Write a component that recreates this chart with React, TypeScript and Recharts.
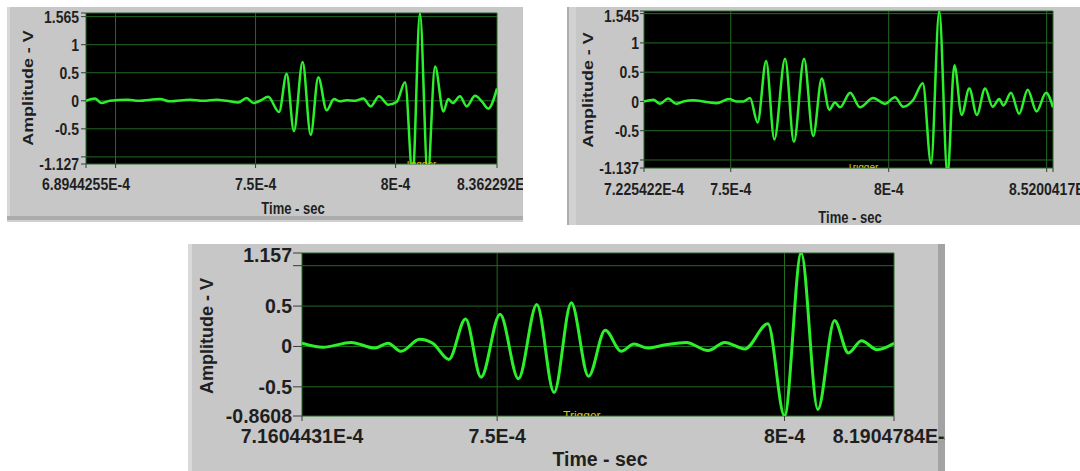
import { LineChart, Line, XAxis, YAxis, CartesianGrid } from "recharts";

const FONT = '"Liberation Sans", Arial, Helvetica, sans-serif';
const INK = "#1f1f1f";
const PANEL_GRAY = "#c7c7c7";
const PLOT_BG = "#000000";
const GRID_GREEN = "#236b23";
const TRACE_GREEN = "#2cf02c";
const TRIGGER_YELLOW = "#d9c400";

// times in microseconds, the axis labels print them as seconds

// top-left graph
const time1 = [
  689.44, 692.7, 695.0, 698.0, 704.5, 708.1, 715.9, 719.4, 726.6, 731.3, 736.1, 739.7,
  743.8, 746.8, 749.2, 751.6, 754.5, 758.4, 761.1, 763.7, 766.8, 769.7, 772.4, 775.4,
  778.0, 780.2, 782.5, 785.5, 788.5, 791.1, 794.1, 797.4, 800.4, 803.4, 806.1, 808.7,
  811.5, 814.1, 817.1, 818.8, 820.4, 823.0, 825.4, 828.4, 830.8, 833.1, 836.23,
];
const amp1 = [
  0.0, 0.04, -0.04, 0.0, 0.02, 0.0, 0.03, -0.01, 0.02, 0.0, 0.02, 0.0,
  -0.03, 0.05, -0.04, 0.0, 0.07, -0.2, 0.48, -0.54, 0.69, -0.61, 0.42, -0.17,
  0.03, -0.01, 0.01, 0.0, 0.04, -0.1, 0.08, -0.07, -0.02, 0.33, -1.35, 1.56,
  -1.35, 0.61, -0.19, 0.03, -0.04, 0.08, -0.1, 0.09, -0.01, -0.14, 0.22,
];
const xTicks1 = [689.44255, 700, 750, 800, 836.2292];
const xTickText1 = ["6.8944255E-4", "", "7.5E-4", "8E-4", "8.362292E-4"];
const yTicks1 = [-1.127, -1, -0.5, 0, 0.5, 1, 1.5, 1.565];
const yTickText1 = ["-1.127", "", "-0.5", "0", "0.5", "1", "", "1.565"];

// top-right graph
const time2 = [
  722.54, 725.5, 727.6, 730.2, 732.7, 735.0, 738.1, 742.4, 745.5, 749.5, 751.9, 754.0,
  756.1, 758.5, 761.2, 763.8, 767.2, 770.0, 773.2, 776.1, 778.8, 781.2, 783.0, 784.6,
  787.8, 790.9, 795.1, 798.8, 802.0, 804.6, 807.8, 810.8, 813.4, 816.0, 818.6, 820.8,
  823.1, 825.5, 827.9, 830.5, 832.9, 835.0, 836.3, 838.7, 841.3, 844.0, 846.8, 849.8, 852.0,
];
const amp2 = [
  0.0, 0.03, -0.04, 0.05, -0.04, 0.0, 0.02, -0.01, -0.03, 0.04, 0.0, 0.0,
  0.06, -0.36, 0.69, -0.65, 0.73, -0.69, 0.73, -0.59, 0.39, -0.14, -0.02, -0.1,
  0.15, -0.1, 0.06, -0.04, 0.07, -0.09, 0.03, 0.31, -1.06, 1.545, -1.25, 0.62,
  -0.23, 0.22, -0.23, 0.22, -0.09, 0.04, -0.07, 0.15, -0.21, 0.2, -0.17, 0.15, -0.1,
];
const xTicks2 = [722.5422, 750, 800, 850, 852.00417];
const xTickText2 = ["7.225422E-4", "7.5E-4", "8E-4", "", "8.5200417E-4"];
const yTicks2 = [-1.137, -1, -0.5, 0, 0.5, 1, 1.5, 1.545];
const yTickText2 = ["-1.137", "", "-0.5", "0", "0.5", "1", "", "1.545"];

// bottom graph
const time3 = [
  716.04, 719.7, 724.6, 728.7, 731.0, 733.3, 736.5, 738.8, 741.6, 744.5, 747.2, 750.5,
  753.7, 756.9, 759.9, 762.9, 765.9, 768.8, 771.6, 773.8, 776.2, 779.3, 782.9, 786.7,
  789.6, 793.1, 797.1, 800.0, 802.9, 805.8, 808.7, 811.1, 813.4, 816.1, 819.05,
];
const amp3 = [
  0.04, -0.01, 0.05, -0.02, 0.04, -0.06, 0.09, 0.04, -0.16, 0.34, -0.38, 0.4,
  -0.4, 0.52, -0.57, 0.54, -0.37, 0.2, -0.06, 0.03, -0.02, 0.02, 0.05, -0.05,
  0.05, -0.03, 0.28, -0.86, 1.157, -0.78, 0.32, -0.08, 0.07, -0.04, 0.04,
];
const xTicks3 = [716.04431, 750, 800, 819.04784];
const xTickText3 = ["7.1604431E-4", "7.5E-4", "8E-4", "8.1904784E-4"];
const yTicks3 = [-0.8608, -0.5, 0, 0.5, 1, 1.157];
const yTickText3 = ["-0.8608", "-0.5", "0", "0.5", "", "1.157"];

type Strip = { left: number; top: number; width: number; height: number; color: string };

interface GraphProps {
  left: number;
  top: number;
  width: number;
  height: number;
  margin: { top: number; right: number; bottom: number; left: number };
  yAxisWidth: number;
  time: number[];
  amp: number[];
  xTicks: number[];
  xTickText: string[];
  yTicks: number[];
  yTickText: string[];
  fontSize: number;
  stretch: number;
  topShift: number;
  xTick: [number, number];
  yTick: [number, number];
  strokeWidth: number;
  ampTitle: { cx: number; cy: number; size: number; stretch: number };
  timeTitle: { cx: number; cy: number; size: number; stretch: number };
  trigger: { left: number; top: number; height: number; size: number };
  strips: Strip[];
}

function Graph(p: GraphProps) {
  const data = p.time.map((t, i) => ({ t, v: p.amp[i] }));
  const xDomain = [p.xTicks[0], p.xTicks[p.xTicks.length - 1]];
  const yDomain = [p.yTicks[0], p.yTicks[p.yTicks.length - 1]];

  const renderXTick = (props: any) => {
    const i = p.xTicks.indexOf(props.payload.value);
    const label = p.xTickText[i];
    if (!label) return <g />;
    return (
      <g transform={`translate(${props.x},${props.y}) scale(1,${p.stretch})`}>
        <text x={0} y={0} dy="0.72em" textAnchor="middle" fontFamily={FONT} fontWeight={700} fontSize={p.fontSize} fill={INK}>
          {label}
        </text>
      </g>
    );
  };

  const renderYTick = (props: any) => {
    const i = p.yTicks.indexOf(props.payload.value);
    const label = p.yTickText[i];
    if (!label) return <g />;
    const shift = i === p.yTicks.length - 1 ? p.topShift : 0;
    return (
      <g transform={`translate(${props.x},${props.y + shift}) scale(1,${p.stretch})`}>
        <text x={0} y={0} dy="0.36em" textAnchor="end" fontFamily={FONT} fontWeight={700} fontSize={p.fontSize} fill={INK}>
          {label}
        </text>
      </g>
    );
  };

  const titleStyle = (size: number) => ({
    position: "absolute" as const,
    width: 240,
    height: size,
    lineHeight: `${size}px`,
    textAlign: "center" as const,
    whiteSpace: "nowrap" as const,
    fontFamily: FONT,
    fontWeight: 700,
    fontSize: size,
    color: INK,
  });

  return (
    <div
      style={{
        position: "absolute",
        left: p.left,
        top: p.top,
        width: p.width,
        height: p.height,
        overflow: "hidden",
        background: PANEL_GRAY,
      }}
    >
      {p.strips.map((s, i) => (
        <div key={i} style={{ position: "absolute", left: s.left, top: s.top, width: s.width, height: s.height, background: s.color }} />
      ))}
      <div style={{ position: "absolute", left: 0, top: 0 }}>
        <LineChart width={p.width} height={p.height} data={data} margin={p.margin}>
          <CartesianGrid fill={PLOT_BG} fillOpacity={1} stroke={GRID_GREEN} strokeWidth={1} />
          <XAxis
            dataKey="t"
            type="number"
            domain={xDomain}
            ticks={p.xTicks}
            interval={0}
            allowDataOverflow
            height={30}
            axisLine={false}
            tickLine={{ stroke: "#3a3a3a" }}
            tickSize={p.xTick[0]}
            tickMargin={p.xTick[1]}
            tick={renderXTick}
          />
          <YAxis
            type="number"
            domain={yDomain}
            ticks={p.yTicks}
            interval={0}
            allowDataOverflow
            width={p.yAxisWidth}
            axisLine={false}
            tickLine={{ stroke: "#3a3a3a" }}
            tickSize={p.yTick[0]}
            tickMargin={p.yTick[1]}
            tick={renderYTick}
          />
          <Line
            type="monotone"
            dataKey="v"
            stroke={TRACE_GREEN}
            strokeWidth={p.strokeWidth}
            dot={false}
            isAnimationActive={false}
          />
        </LineChart>
      </div>
      <div
        style={{
          ...titleStyle(p.ampTitle.size),
          left: p.ampTitle.cx - 120,
          top: p.ampTitle.cy - p.ampTitle.size / 2,
          transform: `rotate(-90deg) scale(${p.ampTitle.stretch},1)`,
        }}
      >
        Amplitude - V
      </div>
      <div
        style={{
          ...titleStyle(p.timeTitle.size),
          left: p.timeTitle.cx - 120,
          top: p.timeTitle.cy - p.timeTitle.size / 2,
          transform: `scale(1,${p.timeTitle.stretch})`,
        }}
      >
        Time - sec
      </div>
      <div
        style={{
          position: "absolute",
          left: p.trigger.left,
          top: p.trigger.top,
          height: p.trigger.height,
          width: 60,
          overflow: "hidden",
        }}
      >
        <div style={{ fontFamily: FONT, fontSize: p.trigger.size, lineHeight: `${p.trigger.size}px`, color: TRIGGER_YELLOW, marginTop: -1 }}>
          Trigger
        </div>
      </div>
    </div>
  );
}

export default function App() {
  return (
    <div style={{ position: "absolute", left: 0, top: 0, width: 1080, height: 471, background: "#ffffff", overflow: "hidden" }}>
      <Graph
        left={7}
        top={7}
        width={516}
        height={215}
        margin={{ top: 6, right: 26, bottom: 28, left: 0 }}
        yAxisWidth={79}
        time={time1}
        amp={amp1}
        xTicks={xTicks1}
        xTickText={xTickText1}
        yTicks={yTicks1}
        yTickText={yTickText1}
        fontSize={14}
        stretch={1.2}
        topShift={4}
        xTick={[4, 10]}
        yTick={[5, 2]}
        strokeWidth={2.5}
        ampTitle={{ cx: 21, cy: 81, size: 14, stretch: 1.28 }}
        timeTitle={{ cx: 286, cy: 201.5, size: 13, stretch: 1.25 }}
        trigger={{ left: 398, top: 154, height: 3, size: 10 }}
        strips={[
          { left: 0, top: 0, width: 3, height: 215, color: "#d8d8d8" },
          { left: 0, top: 209, width: 516, height: 4, color: "#acacac" },
          { left: 0, top: 213, width: 516, height: 2, color: "#d0d0d0" },
        ]}
      />
      <Graph
        left={567}
        top={7}
        width={513}
        height={218}
        margin={{ top: 4, right: 27, bottom: 27, left: 0 }}
        yAxisWidth={77}
        time={time2}
        amp={amp2}
        xTicks={xTicks2}
        xTickText={xTickText2}
        yTicks={yTicks2}
        yTickText={yTickText2}
        fontSize={14}
        stretch={1.2}
        topShift={5}
        xTick={[4, 11]}
        yTick={[4, 1]}
        strokeWidth={2.5}
        ampTitle={{ cx: 21, cy: 83, size: 14, stretch: 1.28 }}
        timeTitle={{ cx: 283, cy: 210, size: 13, stretch: 1.25 }}
        trigger={{ left: 280, top: 157, height: 4, size: 10 }}
        strips={[
          { left: 0, top: 0, width: 2, height: 218, color: "#adadad" },
          { left: 2, top: 0, width: 7, height: 218, color: "#d2d2d2" },
        ]}
      />
      <Graph
        left={188}
        top={244}
        width={757}
        height={227}
        margin={{ top: 9, right: 51, bottom: 25, left: 0 }}
        yAxisWidth={114}
        time={time3}
        amp={amp3}
        xTicks={xTicks3}
        xTickText={xTickText3}
        yTicks={yTicks3}
        yTickText={yTickText3}
        fontSize={19.5}
        stretch={1}
        topShift={2}
        xTick={[5, 8]}
        yTick={[9, 1]}
        strokeWidth={3}
        ampTitle={{ cx: 19, cy: 92, size: 18, stretch: 1 }}
        timeTitle={{ cx: 412, cy: 216, size: 19.5, stretch: 1 }}
        trigger={{ left: 375, top: 167, height: 5, size: 12 }}
        strips={[
          { left: 0, top: 0, width: 4, height: 227, color: "#d9d9d9" },
          { left: 750, top: 0, width: 7, height: 227, color: "#a3a3a3" },
        ]}
      />
    </div>
  );
}
